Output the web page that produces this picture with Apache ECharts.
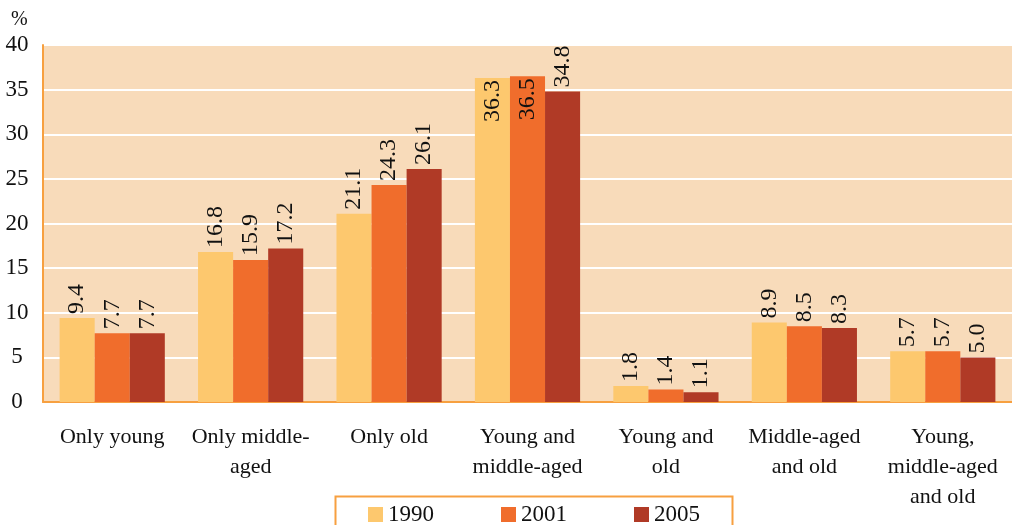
<!DOCTYPE html>
<html>
<head>
<meta charset="utf-8">
<script src="https://cdn.jsdelivr.net/npm/echarts@6/dist/echarts.min.js"></script>
<style>
  html, body { margin: 0; padding: 0; background: #fff; }
  #main { width: 1012px; height: 525px; }
</style>
</head>
<body>
<div id="main"></div>
<script>
var categories = ['Only young', 'Only middle-\naged', 'Only old', 'Young and\nmiddle-aged',
  'Young and\nold', 'Middle-aged\nand old', 'Young,\nmiddle-aged\nand old'];
var years = ['1990', '2001', '2005'];
var v1990 = [9.4, 16.8, 21.1, 36.3, 1.8, 8.9, 5.7];
var v2001 = [7.7, 15.9, 24.3, 36.5, 1.4, 8.5, 5.7];
var v2005 = [7.7, 17.2, 26.1, 34.8, 1.1, 8.3, 5.0];
var colors = ['#fdc86e', '#f06d2c', '#b03a26'];

var serif = 'Liberation Serif';
var chart = echarts.init(document.getElementById('main'));

// tall bars with no room above get their label inside the bar top
function makeSeries(name, data, color) {
  return {
    name: name,
    type: 'bar',
    data: data.map(function (v) {
      if (v > 35) {
        return { value: v, label: { position: 'insideTop', align: 'right', distance: 2 } };
      }
      return v;
    }),
    barGap: 0,
    barCategoryGap: '24%',
    itemStyle: { color: color },
    label: {
      show: true,
      position: 'top',
      rotate: 90,
      align: 'left',
      verticalAlign: 'middle',
      distance: 4,
      color: '#111',
      fontFamily: serif,
      fontSize: 24,
      formatter: function (p) { return p.value.toFixed(1); }
    }
  };
}

var option = {
  animation: false,
  backgroundColor: '#fff',
  color: colors,
  graphic: [{
    type: 'text', left: 11, top: 10,
    style: { text: '%', fontFamily: serif, fontSize: 20, fill: '#111' }
  }, {
    type: 'rect', left: 333, top: 494,
    shape: { width: 397, height: 40 },
    style: { fill: 'none', stroke: '#f7a040', lineWidth: 2 }
  }],
  legend: {
    data: years,
    left: 363,
    top: 498,
    itemWidth: 15,
    itemHeight: 15,
    itemGap: 67,
    icon: 'rect',
    textStyle: { fontFamily: serif, fontSize: 23, color: '#111' }
  },
  grid: { left: 43, right: -4, top: 45, bottom: 123, show: true,
    backgroundColor: '#f8dbba', borderWidth: 0 },
  xAxis: {
    type: 'category',
    data: categories,
    axisLine: { show: true, lineStyle: { color: '#f7a040', width: 2 } },
    axisTick: { show: false },
    axisLabel: { fontFamily: serif, fontSize: 22, color: '#111', margin: 20, lineHeight: 30, interval: 0 }
  },
  yAxis: {
    type: 'value',
    min: 0, max: 40, interval: 5,
    axisLine: { show: true, lineStyle: { color: '#f7a040', width: 2 } },
    axisTick: { show: false },
    axisLabel: { fontFamily: serif, fontSize: 23, color: '#111', margin: 26, align: 'center' },
    splitLine: { show: true, lineStyle: { color: '#ffffff', width: 2 } }
  },
  series: [
    makeSeries(years[0], v1990, colors[0]),
    makeSeries(years[1], v2001, colors[1]),
    makeSeries(years[2], v2005, colors[2])
  ]
};
chart.setOption(option);
</script>
</body>
</html>
